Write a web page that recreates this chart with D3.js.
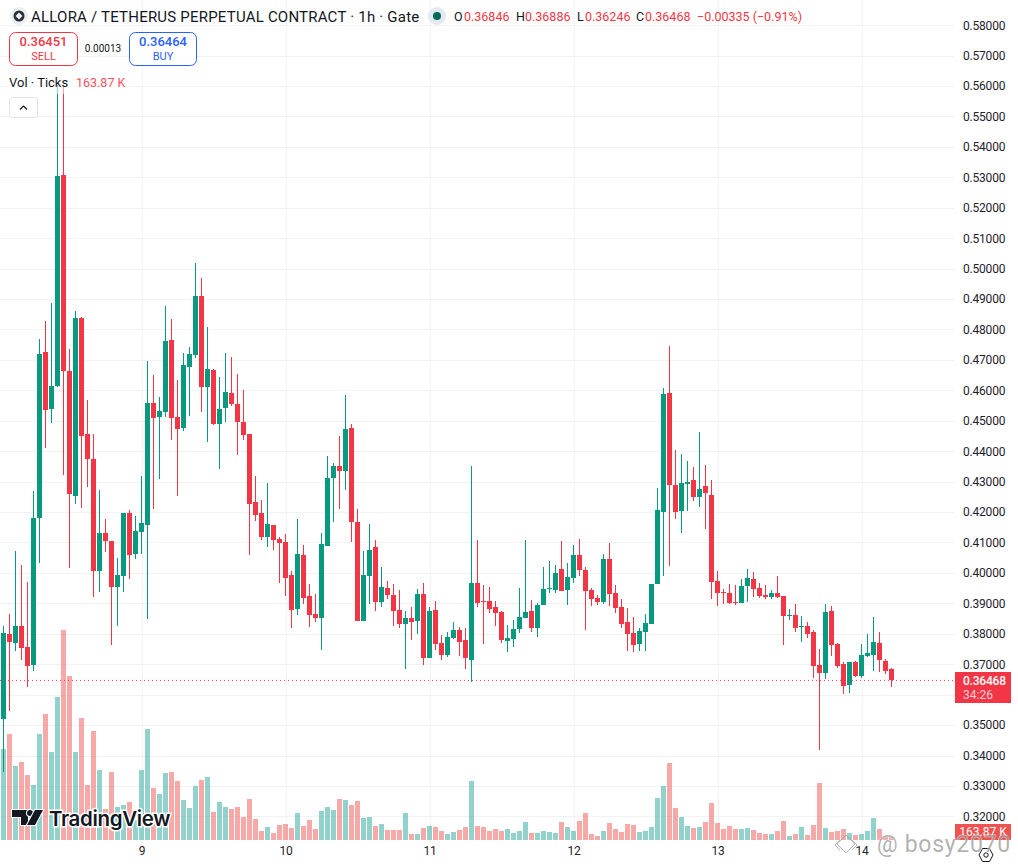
<!DOCTYPE html>
<html>
<head>
  <meta charset="utf-8">
  <script src="https://d3js.org/d3.v7.min.js"></script>
  <style>
    html, body { margin: 0; padding: 0; background: #fff; }
    svg { display: block; }
    text { font-family: Roboto, "Noto Sans", sans-serif; fill: #131722; }
    .grid line { stroke: #f1f2f4; stroke-width: 1; shape-rendering: crispEdges; }
    .grid path { display: none; }
    .axis path, .axis line { display: none; }
    .axis text { font-size: 12px; fill: #1e222d; font-family: Roboto, sans-serif; letter-spacing: -.2px; }
    .candle rect { shape-rendering: crispEdges; }
    .vol rect { shape-rendering: crispEdges; }
  </style>
</head>
<body>
<div id="chart"></div>
<script>
  // one hourly candle per entry
  var opens = [
    .3521,.3799,.3770,.3826,.3757,.3698,.4181,.4726,.4539,.4614,
    .5308,.4664,.4253,.4838,.4457,.4374,.4006,.4131,.4105,.3954,
    .3990,.4197,.4062,.4135,.4158,.4558,.4512,.4529,.4766,.4512,
    .4476,.4677,.4716,.4910,.4611,.4667,.4489,.4542,.4591,.4555,
    .4496,.4457,.4233,.4197,.4118,.4158,.4112,.4102,.3993,.3881,
    .4059,.3924,.3865,.3852,.4089,.4312,.4351,.4335,.4476,.4167,
    .3842,.3990,.4085,.3905,.3951,.3928,.3878,.3832,.3852,.3842,
    .3931,.3720,.3878,.3770,.3730,.3786,.3812,.3780,.3714,.3967,
    .3908,.3908,.3888,.3872,.3776,.3783,.3816,.3852,.3875,.3819,
    .3895,.3947,.3944,.4013,.3944,.3983,.4059,.4010,.3944,.3918,
    .3905,.4046,.3934,.3888,.3839,.3803,.3767,.3806,.3832,.3964,
    .4200,.4591,.4289,.4204,.4292,.4305,.4250,.4286,.4256,.3974,
    .3937,.3934,.3905,.3901,.3957,.3980,.3951,.3928,.3921,.3934,
    .3924,.3859,.3862,.3822,.3826,.3806,.3698,.3671,.3875,.3767,
    .3701,.3632,.3707,.3661,.3727,.3730,.3770,.3711,.36846
  ];
  var highs = [
    .3826,.3865,.4072,.4026,.3970,.4269,.4769,.4828,.4887,.5603,
    .5603,.4736,.4861,.4841,.4568,.4457,.4273,.4177,.4105,.4049,
    .4197,.4207,.4187,.4319,.4696,.4651,.4578,.4877,.4834,.4634,
    .4723,.4743,.5018,.4969,.4808,.4670,.4644,.4723,.4710,.4654,
    .4601,.4457,.4319,.4240,.4296,.4158,.4118,.4128,.4006,.4177,
    .4092,.3964,.3931,.4131,.4384,.4361,.4450,.4585,.4489,.4210,
    .4072,.4161,.4108,.4020,.3974,.3964,.3944,.3875,.3888,.3947,
    .3967,.3888,.3908,.3796,.3806,.3839,.3822,.3819,.4351,.4108,
    .3960,.3954,.3908,.3875,.3829,.3845,.3951,.4108,.3911,.3901,
    .4020,.4039,.4026,.4105,.4033,.4092,.4112,.4020,.3951,.3928,
    .4062,.4098,.3960,.3914,.3885,.3855,.3819,.3865,.3964,.4279,
    .4608,.4746,.4404,.4391,.4368,.4348,.4463,.4355,.4305,.4006,
    .3947,.3964,.3960,.3980,.4013,.4003,.3967,.3960,.3944,.3990,
    .3924,.3881,.3898,.3859,.3839,.3812,.3750,.3898,.3891,.3770,
    .3707,.3707,.3711,.3767,.3799,.3855,.3806,.3717,.36886
  ];
  var lows = [
    .3347,.3547,.3743,.3714,.3625,.3678,.4033,.4411,.4493,.4611,
    .4322,.4016,.4227,.4213,.4282,.3921,.3937,.4069,.3763,.3826,
    .3937,.3980,.4046,.4062,.3849,.4210,.4309,.4512,.4437,.4253,
    .4466,.4516,.4706,.4529,.4430,.4486,.4342,.4496,.4549,.4388,
    .4437,.4059,.4171,.4108,.4085,.4075,.3967,.3924,.3819,.3862,
    .3898,.3822,.3839,.3747,.4089,.4167,.4210,.4273,.4102,.3842,
    .3842,.3898,.3875,.3888,.3914,.3826,.3819,.3684,.3780,.3799,
    .3698,.3720,.3747,.3714,.3724,.3783,.3727,.3684,.3642,.3888,
    .3767,.3868,.3826,.3770,.3740,.3757,.3803,.3852,.3806,.3790,
    .3895,.3934,.3934,.3941,.3895,.3967,.3990,.3812,.3891,.3895,
    .3898,.3891,.3868,.3819,.3743,.3740,.3743,.3743,.3832,.3964,
    .3990,.4023,.4177,.4131,.4204,.4236,.4217,.4144,.3914,.3891,
    .3898,.3898,.3895,.3901,.3905,.3921,.3918,.3914,.3914,.3918,
    .3763,.3845,.3806,.3773,.3786,.3655,.3418,.3651,.3727,.3688,
    .3602,.3605,.3658,.3655,.3724,.3678,.3674,.3668,.36246
  ];
  var closes = [
    .3803,.3773,.3826,.3753,.3694,.4181,.4720,.4535,.4614,.5304,
    .4664,.4259,.4838,.4450,.4374,.4006,.4131,.4105,.3954,.3993,
    .4197,.4059,.4138,.4164,.4558,.4509,.4532,.4762,.4509,.4473,
    .4683,.4720,.4910,.4611,.4670,.4489,.4539,.4595,.4555,.4496,
    .4453,.4227,.4190,.4118,.4161,.4108,.4098,.3983,.3878,.4062,
    .3918,.3862,.3852,.4095,.4312,.4351,.4335,.4473,.4167,.3842,
    .3993,.4075,.3905,.3954,.3928,.3875,.3832,.3852,.3839,.3931,
    .3720,.3875,.3767,.3730,.3790,.3812,.3773,.3720,.3967,.3901,
    .3905,.3881,.3868,.3780,.3786,.3816,.3855,.3872,.3819,.3895,
    .3947,.3951,.4000,.3941,.3987,.4059,.4010,.3941,.3914,.3905,
    .4046,.3931,.3885,.3832,.3799,.3763,.3809,.3835,.3964,.4207,
    .4588,.4289,.4200,.4296,.4299,.4250,.4276,.4263,.3970,.3934,
    .3934,.3901,.3901,.3957,.3983,.3947,.3924,.3921,.3934,.3921,
    .3859,.3862,.3819,.3826,.3799,.3694,.3671,.3872,.3763,.3694,
    .3629,.3707,.3661,.3730,.3737,.3773,.3714,.3678,.36468
  ];
  // volume in thousands
  var volumes = [
    5005,5830,4070,4290,3575,3025,5830,6930,4840,7865,
    11550,9020,4840,6710,3025,5995,3850,1705,3740,1815,
    1925,2090,1100,3850,6105,2860,2530,3685,3740,3245,
    2200,1760,2970,3300,3465,1540,2090,1815,1705,1815,
    1265,2255,1155,495,715,385,825,880,660,1485,
    770,1100,605,1595,1815,1650,2255,2200,1925,2145,
    1210,1265,770,880,550,550,550,1485,330,330,
    660,770,715,495,330,440,550,715,3245,770,
    715,495,605,495,605,385,495,990,385,385,
    495,440,385,990,715,495,1045,1485,330,220,
    495,935,605,440,880,825,440,495,715,2310,
    2970,4235,1760,1265,770,660,715,990,2035,935,
    605,770,605,605,660,550,385,330,330,495,
    1045,220,330,715,275,825,3135,660,440,495,
    605,385,275,330,495,1210,605,165,163.87
  ];

  var dayLabels = ["9", "10", "11", "12", "13", "14"];
  var dayIndexes = [23, 47, 71, 95, 119, 143];
  var priceTicks = [.58,.57,.56,.55,.54,.53,.52,.51,.50,.49,.48,.47,.46,.45,.44,.43,.42,.41,.40,.39,.38,.37,.36,.35,.34,.33,.32];
  var lastPrice = .36468;

  var width = 1018, height = 868;
  var paneRight = 955;
  var upColor = "#089981", downColor = "#f23645";

  var x = d3.scaleLinear().domain([0, 1]).range([3.5, 9.5]);
  var y = d3.scaleLinear().domain([.58, .34]).range([25.2, 755.5]);
  var yVol = d3.scaleLinear().domain([0, 11550]).range([840, 630]);

  var svg = d3.select("#chart").append("svg")
    .attr("width", width)
    .attr("height", height);

  // grid
  svg.append("g").attr("class", "grid")
    .call(d3.axisRight(y).tickValues(priceTicks).tickSize(paneRight).tickFormat(""));
  svg.append("g").attr("class", "grid")
    .attr("transform", "translate(0,843)")
    .call(d3.axisTop(x).tickValues(dayIndexes).tickSize(843).tickFormat(""));

  // axes
  svg.append("g").attr("class", "axis")
    .attr("transform", "translate(963,0)")
    .call(d3.axisRight(y).tickValues(priceTicks).tickSize(0).tickPadding(0).tickFormat(d3.format(".5f")));
  svg.append("g").attr("class", "axis")
    .attr("transform", "translate(0,846)")
    .call(d3.axisBottom(x).tickValues(dayIndexes).tickSize(0).tickPadding(0)
      .tickFormat(function(d) { return dayLabels[dayIndexes.indexOf(d)]; }));

  // volume bars
  svg.append("g").attr("class", "vol")
    .selectAll("rect")
    .data(volumes)
    .enter().append("rect")
    .attr("x", function(d, i) { return x(i) - 2.5; })
    .attr("width", 5)
    .attr("y", function(d) { return yVol(d); })
    .attr("height", function(d) { return yVol(0) - yVol(d); })
    .attr("fill", function(d, i) { return closes[i] >= opens[i] ? "#26a69a" : "#ef5350"; })
    .attr("fill-opacity", .5);

  // candles
  var candle = svg.append("g").attr("class", "candle")
    .selectAll("g")
    .data(opens)
    .enter().append("g")
    .attr("fill", function(d, i) { return closes[i] >= d ? upColor : downColor; });

  candle.append("rect")
    .attr("x", function(d, i) { return x(i) - .5; })
    .attr("width", 1)
    .attr("y", function(d, i) { return y(highs[i]); })
    .attr("height", function(d, i) { return y(lows[i]) - y(highs[i]); });

  candle.append("rect")
    .attr("x", function(d, i) { return x(i) - 2.5; })
    .attr("width", 5)
    .attr("y", function(d, i) { return y(Math.max(d, closes[i])); })
    .attr("height", function(d, i) { return Math.max(1, Math.abs(y(d) - y(closes[i]))); });

  // last price line and labels
  svg.append("line")
    .attr("x1", 0).attr("x2", paneRight)
    .attr("y1", y(lastPrice)).attr("y2", y(lastPrice))
    .attr("stroke", downColor)
    .attr("stroke-dasharray", "1 3");

  svg.append("rect").attr("x", 955).attr("y", 672).attr("width", 56).attr("height", 31).attr("fill", downColor);
  svg.append("text").attr("x", 963).attr("y", 685).text(d3.format(".5f")(lastPrice))
    .style("fill", "#fff").style("font-size", "12px").style("font-weight", 500).style("letter-spacing", "-.2px");
  svg.append("text").attr("x", 963).attr("y", 699).text("34:26")
    .style("fill", "#fbd0d4").style("font-size", "12px");

  svg.append("rect").attr("x", 955).attr("y", 824).attr("width", 56).attr("height", 16).attr("fill", "#ef5350");
  svg.append("text").attr("x", 983).attr("y", 836).attr("text-anchor", "middle").text("163.87 K")
    .style("fill", "#fff").style("font-size", "12px");

  // settings hexagon in the axis corner
  svg.append("path").attr("d", "M979 855l3.5-6.5h7l3.5 6.5-3.5 6.5h-7z")
    .attr("fill", "none").attr("stroke", "#131722");
  svg.append("circle").attr("cx", 986).attr("cy", 855).attr("r", 2.2)
    .attr("fill", "none").attr("stroke", "#131722");

  // legend, header
  svg.append("rect").attr("x", 5).attr("y", 74).attr("width", 125).attr("height", 20)
    .attr("fill", "#fff").attr("fill-opacity", .55);

  svg.append("circle").attr("cx", 19).attr("cy", 16).attr("r", 9).attr("fill", "#eceef1");
  svg.append("circle").attr("cx", 19).attr("cy", 16).attr("r", 5.5).attr("fill", "#2a2e39");
  svg.append("path").attr("d", "M19 12.5l3.5 3.5-3.5 3.5-3.5-3.5z").attr("fill", "#eceef1");

  svg.append("text").attr("x", 31).attr("y", 22)
    .text("ALLORA / TETHERUS PERPETUAL CONTRACT · 1h · Gate")
    .style("font-size", "15px").style("letter-spacing", ".21px");

  svg.append("circle").attr("cx", 437).attr("cy", 16).attr("r", 9).attr("fill", "#e3e9ee");
  svg.append("circle").attr("cx", 437).attr("cy", 16).attr("r", 4).attr("fill", "#006b5a");

  var ohlc = [
    ["O", 454, "0.36846", 464], ["H", 516, "0.36886", 525],
    ["L", 577, "0.36246", 585], ["C", 636, "0.36468", 645]
  ];
  ohlc.forEach(function(o) {
    svg.append("text").attr("x", o[1]).attr("y", 21).text(o[0]).style("font-size", "12.5px");
    svg.append("text").attr("x", o[3]).attr("y", 21).text(o[2]).style("font-size", "12.5px").style("fill", downColor);
  });
  svg.append("text").attr("x", 697).attr("y", 21).text("−0.00335 (−0.91%)")
    .style("font-size", "12.5px").style("fill", downColor);

  svg.append("rect").attr("x", 9.5).attr("y", 32.5).attr("width", 68).attr("height", 33).attr("rx", 6)
    .attr("fill", "#fff").attr("stroke", downColor);
  svg.append("text").attr("x", 43.5).attr("y", 46).attr("text-anchor", "middle").text("0.36451")
    .style("font-size", "13px").style("font-weight", 500).style("fill", downColor);
  svg.append("text").attr("x", 43.5).attr("y", 60).attr("text-anchor", "middle").text("SELL")
    .style("font-size", "11px").style("fill", downColor);

  svg.append("text").attr("x", 103).attr("y", 52).attr("text-anchor", "middle").text("0.00013")
    .style("font-size", "10px");

  svg.append("rect").attr("x", 129.5).attr("y", 32.5).attr("width", 67).attr("height", 33).attr("rx", 6)
    .attr("fill", "#fff").attr("stroke", "#2962ff");
  svg.append("text").attr("x", 163).attr("y", 46).attr("text-anchor", "middle").text("0.36464")
    .style("font-size", "13px").style("font-weight", 500).style("fill", "#2962ff");
  svg.append("text").attr("x", 163).attr("y", 60).attr("text-anchor", "middle").text("BUY")
    .style("font-size", "11px").style("fill", "#2962ff");

  svg.append("text").attr("x", 9).attr("y", 87).text("Vol · Ticks").style("font-size", "13px");
  svg.append("text").attr("x", 76).attr("y", 87).text("163.87 K")
    .style("font-size", "12.5px").style("fill", "#f7525f");

  svg.append("rect").attr("x", 9.5).attr("y", 97.5).attr("width", 28).attr("height", 20).attr("rx", 3)
    .attr("fill", "#fff").attr("stroke", "#e0e3eb");
  svg.append("path").attr("d", "M20 109.5l3.5-3.5 3.5 3.5")
    .attr("fill", "none").attr("stroke", "#131722").attr("stroke-width", 1.2);

  // TradingView logo
  var logo = svg.append("g").attr("stroke", "#fff").attr("stroke-width", 2).attr("paint-order", "stroke").attr("fill", "#131722");
  logo.append("path").attr("d", "M12 810h16v15h-7v-8h-9z");
  logo.append("circle").attr("cx", 30).attr("cy", 813).attr("r", 3);
  logo.append("path").attr("d", "M35 810h8l-8 15h-8z");
  svg.append("text").attr("x", 49).attr("y", 826).text("TradingView")
    .style("font-size", "20.5px").style("font-weight", 600).style("font-family", "Inter, Roboto, sans-serif")
    .style("stroke", "#fff").style("stroke-width", 3).style("paint-order", "stroke").style("letter-spacing", "-.35px");

  // watermark
  var wm = svg.append("g").attr("fill", "none").attr("stroke", "#9a9a9a").attr("stroke-opacity", .7);
  wm.append("path").attr("d", "M846 835l9 9-9 9-9-9z");
  wm.append("path").attr("d", "M840 840l-5 5 5 5M852 840l5 5-5 5");
  svg.append("text").attr("x", 877).attr("y", 852).text("@ bosy2070")
    .style("font-size", "23px").style("fill", "#8f8f8f").style("fill-opacity", .7)
    .style("stroke", "#fff").style("stroke-width", 1).style("stroke-opacity", .6).style("paint-order", "stroke")
    .style("letter-spacing", ".7px");
</script>
</body>
</html>
